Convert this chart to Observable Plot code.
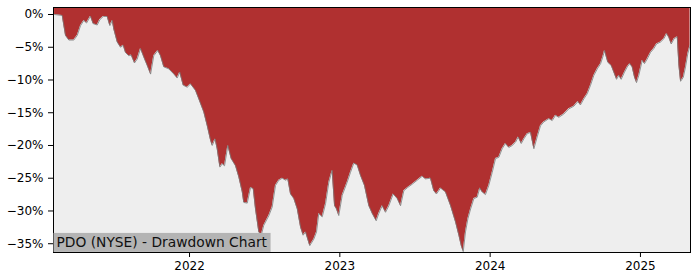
<!DOCTYPE html>
<html><head><meta charset="utf-8">
<script src="https://cdn.jsdelivr.net/npm/d3@7"></script>
<script src="https://cdn.jsdelivr.net/npm/@observablehq/plot@0.6"></script>
<style>html,body{margin:0;padding:0;background:#fff} svg{display:block}</style>
</head><body><div id="chart"></div>
<script>
// decimal-year dates
const dates = [
2021.102,2021.153,2021.175,2021.197,2021.230,2021.253,2021.275,2021.297,2021.315,2021.341,
2021.359,2021.386,2021.403,2021.426,2021.452,2021.470,2021.486,2021.496,2021.519,2021.541,
2021.559,2021.574,2021.596,2021.612,2021.634,2021.652,2021.674,2021.701,2021.719,2021.741,
2021.762,2021.789,2021.807,2021.829,2021.862,2021.896,2021.918,2021.935,2021.958,2021.985,
2022.007,2022.040,2022.062,2022.095,2022.118,2022.140,2022.151,2022.170,2022.184,2022.202,
2022.218,2022.233,2022.255,2022.277,2022.306,2022.328,2022.351,2022.361,2022.384,2022.406,
2022.424,2022.439,2022.461,2022.477,2022.494,2022.528,2022.550,2022.572,2022.594,2022.617,
2022.639,2022.654,2022.672,2022.694,2022.717,2022.739,2022.756,2022.772,2022.800,2022.827,
2022.845,2022.860,2022.883,2022.905,2022.927,2022.949,2022.965,2022.978,2022.993,2023.016,
2023.049,2023.071,2023.093,2023.116,2023.138,2023.164,2023.193,2023.216,2023.242,2023.259,
2023.282,2023.304,2023.326,2023.355,2023.382,2023.404,2023.426,2023.452,2023.482,2023.515,
2023.548,2023.570,2023.603,2023.625,2023.643,2023.670,2023.703,2023.737,2023.770,2023.792,
2023.808,2023.821,2023.836,2023.852,2023.870,2023.892,2023.914,2023.931,2023.947,2023.969,
2023.991,2024.014,2024.036,2024.058,2024.080,2024.102,2024.124,2024.147,2024.169,2024.187,
2024.207,2024.224,2024.247,2024.269,2024.291,2024.313,2024.335,2024.357,2024.391,2024.413,
2024.435,2024.457,2024.490,2024.524,2024.557,2024.584,2024.601,2024.623,2024.646,2024.668,
2024.690,2024.713,2024.735,2024.752,2024.761,2024.783,2024.806,2024.823,2024.841,2024.856,
2024.872,2024.894,2024.912,2024.929,2024.945,2024.961,2024.974,2024.989,2025.012,2025.027,
2025.045,2025.067,2025.089,2025.107,2025.134,2025.156,2025.174,2025.189,2025.205,2025.224,
2025.245,2025.256,2025.267,2025.285,2025.300,2025.315,2025.330
];
// drawdown in percent
const drawdown = [
0,-0.15,-3.2,-3.9,-3.9,-3.2,-1.7,-0.9,-1.3,-0.26,
-1.4,-1.6,-0.8,-0.3,-0.3,-1.7,-0.9,-2.2,-4.2,-5.0,
-4.7,-5.8,-6.3,-6.2,-7.4,-6.8,-5.2,-6.8,-7.8,-9.1,
-6.3,-5.5,-6.3,-8.0,-8.3,-9.1,-9.7,-8.8,-10.8,-11.1,
-10.6,-11.6,-12.9,-14.9,-17.0,-19.2,-20.0,-19.0,-20.5,-23.3,
-22.8,-23.1,-20.0,-22.0,-23.1,-24.8,-27.1,-28.7,-28.8,-26.4,
-26.6,-29.7,-33.2,-33.7,-32.2,-30.7,-29.4,-26.1,-25.3,-25.0,
-25.3,-25.1,-27.4,-28.1,-29.7,-32.5,-33.7,-33.2,-35.3,-34.3,
-33.2,-30.4,-30.9,-28.9,-25.6,-23.8,-29.2,-29.7,-30.7,-27.6,
-25.6,-24.1,-22.7,-23.0,-24.6,-26.1,-29.2,-30.4,-31.5,-30.4,
-29.2,-30.2,-29.2,-27.4,-28.1,-29.2,-26.9,-26.4,-25.9,-25.3,
-24.7,-25.1,-25.0,-26.9,-27.4,-26.5,-27.1,-29.2,-31.7,-33.7,
-35.3,-36.2,-33.2,-31.2,-29.7,-28.1,-27.9,-26.5,-27.1,-27.5,
-26.1,-24.1,-22.0,-21.8,-20.5,-19.7,-20.3,-20.0,-19.5,-18.7,
-19.7,-19.0,-18.2,-18.0,-20.5,-18.7,-17.0,-16.4,-15.9,-16.2,
-15.4,-15.7,-15.2,-14.4,-14.0,-13.3,-13.8,-12.9,-12.1,-10.8,
-9.3,-8.3,-7.5,-6.3,-5.5,-7.3,-7.8,-8.8,-9.9,-9.3,
-9.9,-8.8,-8.0,-7.5,-8.0,-9.6,-10.4,-9.3,-7.0,-7.5,
-6.8,-5.8,-5.2,-4.5,-4.2,-3.7,-2.9,-3.5,-4.5,-3.7,
-3.4,-7.8,-10.2,-9.6,-8.0,-6.0,-4.7
];
const xTicks = [2022, 2023, 2024, 2025];
const yTicks = [0, -5, -10, -15, -20, -25, -30, -35];
const title = "PDO (NYSE) - Drawdown Chart";

const data = dates.map((t, i) => ({t, dd: drawdown[i]}));
const yTop = 1.07, yBottom = -36.34;

const chart = Plot.plot({
  width: 700, height: 280,
  marginLeft: 53, marginRight: 10, marginTop: 7, marginBottom: 28,
  style: {fontFamily: "DejaVu Sans", fontSize: "12px", background: "#fff", color: "#000"},
  x: {domain: [2021.095, 2025.333], ticks: xTicks, tickFormat: d => String(d), tickSize: 5, tickPadding: 4, label: null},
  y: {domain: [yBottom, yTop], ticks: yTicks, tickFormat: d => (d < 0 ? "\u2212" : "") + Math.abs(d) + "%", tickSize: 5, tickPadding: 5, label: null},
  marks: [
    Plot.frame({fill: "#eeeeee"}),
    Plot.areaY(data, {x: "t", y1: "dd", y2: () => yTop, fill: "#b03030", clip: true}),
    Plot.line(data, {x: "t", y: "dd", stroke: "#7a7a7a", strokeWidth: 0.8, clip: true}),
    Plot.frame({stroke: "#000", strokeWidth: 1}),
    Plot.text([title], {frameAnchor: "bottom-left", dx: 3, dy: -9.5, text: d => d, fontSize: 13.8, textAnchor: "start", lineAnchor: "middle", fill: "#111", className: "ttl"})
  ]
});
document.getElementById("chart").appendChild(chart);

// grey box behind the title, in the text's own coordinate system
const t = chart.querySelector(".ttl text");
if (t) {
  const bb = t.getBBox();
  const cy = bb.y + bb.height / 2;
  const rect = document.createElementNS("http://www.w3.org/2000/svg", "rect");
  rect.setAttribute("x", bb.x - 3);
  rect.setAttribute("y", cy - 9.5);
  rect.setAttribute("width", bb.width + 6);
  rect.setAttribute("height", 19);
  rect.setAttribute("fill", "#b4b4b4");
  if (t.getAttribute("transform")) rect.setAttribute("transform", t.getAttribute("transform"));
  t.parentNode.insertBefore(rect, t);
}
</script>
</body></html>
